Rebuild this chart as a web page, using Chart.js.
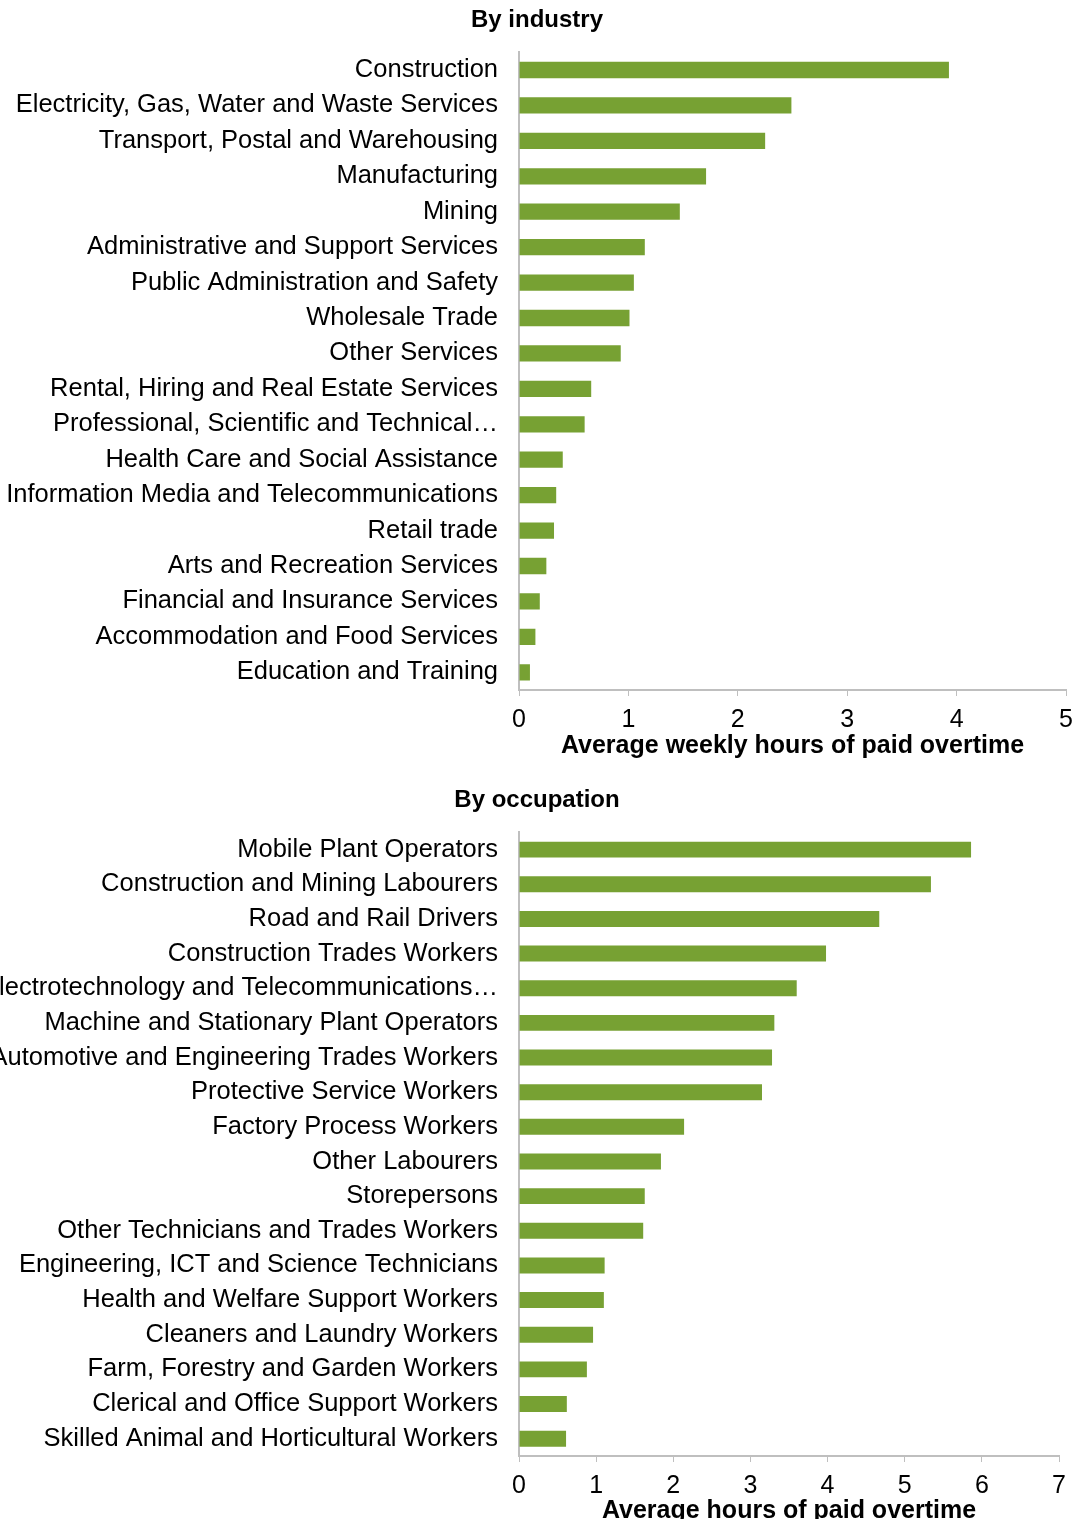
<!DOCTYPE html>
<html>
<head>
<meta charset="utf-8">
<script src="https://cdn.jsdelivr.net/npm/chart.js@4.4.1/dist/chart.umd.min.js"></script>
<style>
  body { margin: 0; background: #fff; }
  .box { position: absolute; left: 0; width: 1074px; overflow: hidden; }
  #top { top: 0; height: 759px; }
  #bottom { top: 780px; height: 739px; }
  .inner { position: relative; width: 1074px; }
  #top .inner { height: 759px; }
  #bottom .inner { height: 744px; }
</style>
</head>
<body>
<div class="box" id="top"><div class="inner"><canvas id="chartIndustry"></canvas></div></div>
<div class="box" id="bottom"><div class="inner"><canvas id="chartOccupation"></canvas></div></div>
<script>
// data ========================================================
const industries = [
  "Construction",
  "Electricity, Gas, Water and Waste Services",
  "Transport, Postal and Warehousing",
  "Manufacturing",
  "Mining",
  "Administrative and Support Services",
  "Public Administration and Safety",
  "Wholesale Trade",
  "Other Services",
  "Rental, Hiring and Real Estate Services",
  "Professional, Scientific and Technical\u2026",
  "Health Care and Social Assistance",
  "Information Media and Telecommunications",
  "Retail trade",
  "Arts and Recreation Services",
  "Financial and Insurance Services",
  "Accommodation and Food Services",
  "Education and Training",
];
const industryHours = [3.93, 2.49, 2.25, 1.71, 1.47, 1.15, 1.05, 1.01, 0.93, 0.66, 0.60, 0.40, 0.34, 0.32, 0.25, 0.19, 0.15, 0.10];
const industryTicks = [0, 1, 2, 3, 4, 5];

const occupations = [
  "Mobile Plant Operators",
  "Construction and Mining Labourers",
  "Road and Rail Drivers",
  "Construction Trades Workers",
  "Electrotechnology and Telecommunications\u2026",
  "Machine and Stationary Plant Operators",
  "Automotive and Engineering Trades Workers",
  "Protective Service Workers",
  "Factory Process Workers",
  "Other Labourers",
  "Storepersons",
  "Other Technicians and Trades Workers",
  "Engineering, ICT and Science Technicians",
  "Health and Welfare Support Workers",
  "Cleaners and Laundry Workers",
  "Farm, Forestry and Garden Workers",
  "Clerical and Office Support Workers",
  "Skilled Animal and Horticultural Workers",
];
const occupationHours = [5.86, 5.34, 4.67, 3.98, 3.60, 3.31, 3.28, 3.15, 2.14, 1.84, 1.63, 1.61, 1.11, 1.10, 0.96, 0.88, 0.62, 0.61];
const occupationTicks = [0, 1, 2, 3, 4, 5, 6, 7];

// chart setup ===================================================
const FONT = "Liberation Sans, Arial, sans-serif";
const BAR = "#77A133";
const AXIS = "#BFBFBF";
const AXIS_X = 519; // y axis line position in the page
Chart.defaults.font.family = FONT;
Chart.defaults.color = "#000";

function makeChart(id, labels, values, maxTick, title, axisTitle, rightPad, titleGap) {
  return new Chart(document.getElementById(id), {
    type: "bar",
    data: {
      labels: labels,
      datasets: [{ data: values, backgroundColor: BAR, barPercentage: 0.46, categoryPercentage: 1 }],
    },
    options: {
      indexAxis: "y",
      responsive: true,
      maintainAspectRatio: false,
      animation: false,
      layout: { padding: 0 },
      plugins: {
        legend: { display: false },
        tooltip: { enabled: false },
        title: {
          display: true,
          text: title,
          color: "#000",
          font: { size: 24, weight: "bold" },
          padding: { top: 6, bottom: 17.5 },
        },
      },
      scales: {
        x: {
          min: 0,
          max: maxTick,
          ticks: { stepSize: 1, font: { size: 25, lineHeight: 1 }, color: "#000", padding: 11.5 },
          grid: { drawOnChartArea: false, drawTicks: true, tickLength: 6, color: AXIS },
          border: { color: AXIS, width: 2 },
          title: {
            display: true,
            text: axisTitle,
            color: "#000",
            font: { size: 25, weight: "bold", lineHeight: 1 },
            padding: { top: titleGap, bottom: 0 },
          },
          afterFit: function (scale) { scale.paddingRight = rightPad; },
        },
        y: {
          ticks: { font: { size: 25.5 }, color: "#000", padding: 21, autoSkip: false },
          grid: { display: false, drawTicks: false },
          border: { color: AXIS, width: 2 },
          afterFit: function (scale) { scale.width = AXIS_X; },
        },
      },
    },
  });
}

makeChart("chartIndustry", industries, industryHours, industryTicks[industryTicks.length - 1],
  "By industry", "Average weekly hours of paid overtime", 8, -10);
makeChart("chartOccupation", occupations, occupationHours, occupationTicks[occupationTicks.length - 1],
  "By occupation", "Average hours of paid overtime", 15, -11);
</script>
</body>
</html>
